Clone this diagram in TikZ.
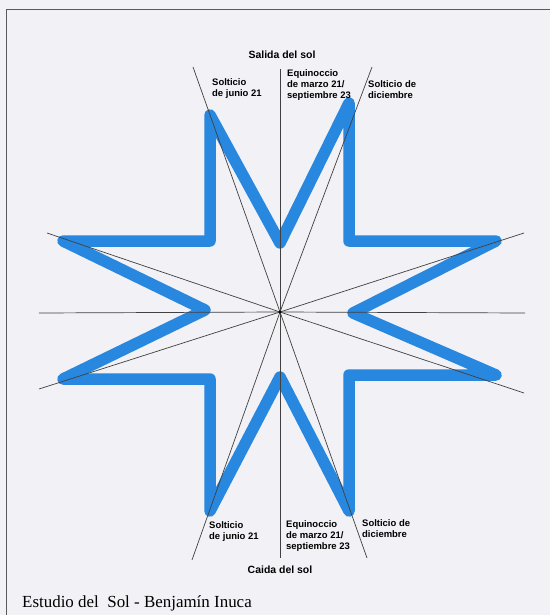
\documentclass[tikz,border=0pt]{standalone}
\usepackage{fontspec}
\setmainfont{Liberation Serif}
\setsansfont{Liberation Sans}
\definecolor{starblue}{RGB}{40,135,222}
\definecolor{bgpaper}{RGB}{241,241,246}
\begin{document}
\begin{tikzpicture}[x=1bp,y=-1bp,
  ray/.style={draw=black!75, line width=0.7bp},
  starline/.style={draw=starblue, line width=11.5bp, line join=round, line cap=round},
  lbl/.style={font=\sffamily\bfseries\fontsize{9.5}{11.5}\selectfont, align=left, inner sep=0, anchor=north west},
  ttl/.style={font=\sffamily\bfseries\fontsize{10.5}{12}\selectfont, inner sep=0},
  framel/.style={draw=black!65, line width=1.5bp}]
\fill[bgpaper] (0,0) rectangle (550,615);
\useasboundingbox (0,0) rectangle (550,615);
% frame
\coordinate (fa) at (550,9.5);
\coordinate (fb) at (6.5,9.5);
\coordinate (fc) at (6.5,615);
\draw[framel] (fa) -- (fb) -- (fc);
% star vertices
\coordinate (s1) at (210,115);
\coordinate (s2) at (210,241);
\coordinate (s3) at (63,241);
\coordinate (s4) at (205,310);
\coordinate (s5) at (63,379);
\coordinate (s6) at (210,379);
\coordinate (s7) at (210,511);
\coordinate (s8) at (280,377);
\coordinate (s9) at (349,511);
\coordinate (s10) at (349,375);
\coordinate (s11) at (496,375);
\coordinate (s12) at (353,313);
\coordinate (s13) at (496,241);
\coordinate (s14) at (349,241);
\coordinate (s15) at (349,103);
\coordinate (s16) at (280,243);
\draw[starline] (s1) -- (s2) -- (s3) -- (s4) -- (s5) -- (s6) -- (s7) -- (s8) -- (s9) -- (s10) -- (s11) -- (s12) -- (s13) -- (s14) -- (s15) -- (s16) -- cycle;
% rays
\coordinate (c) at (280,312);
\coordinate (rn) at (280,69);
\coordinate (rs) at (280,558);
\coordinate (rnw) at (193,67);
\coordinate (rne) at (372,67);
\coordinate (rsw) at (192,560);
\coordinate (rse) at (367,558);
\coordinate (rwn) at (47,233);
\coordinate (rw) at (39,313);
\coordinate (rws) at (39,389);
\coordinate (ren) at (524,233);
\coordinate (re) at (525,313);
\coordinate (res) at (524,393);
\foreach \p in {rn,rs,rnw,rne,rsw,rse,rwn,rw,rws,ren,re,res}
  \draw[ray] (c) -- (\p);
\fill[black] (c) circle (1.3bp);
% labels
\node[ttl] (salida) at (282,55) {Salida del sol};
\node[ttl] (caida) at (280,570) {Caida del sol};
\node[lbl] (tl) at (212,78) {Solticio\\de junio 21};
\node[lbl] (tm) at (287,69) {Equinoccio\\de marzo 21/\\septiembre 23};
\node[lbl] (tr) at (368,80) {Solticio de\\diciembre};
\node[lbl] (bl) at (209,521) {Solticio\\de junio 21};
\node[lbl] (bm) at (286,520) {Equinoccio\\de marzo 21/\\septiembre 23};
\node[lbl] (br) at (362,519) {Solticio de\\diciembre};
\node[anchor=base west, inner sep=0, font=\fontsize{17}{19}\selectfont] (foot) at (22,607) {Estudio del\hspace{0.5em}Sol - Benjamín Inuca};
\end{tikzpicture}
\end{document}
